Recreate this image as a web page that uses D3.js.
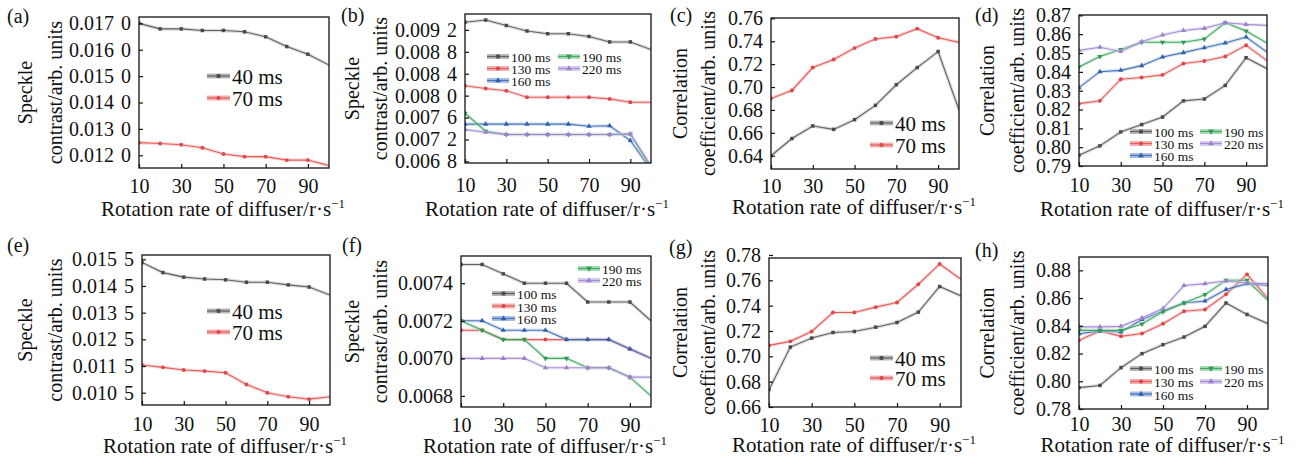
<!DOCTYPE html>
<html><head><meta charset="utf-8">
<script src="https://cdn.jsdelivr.net/npm/d3@7"></script>
<style>
body{margin:0;background:#fff}
svg{display:block}
text{font-family:"Liberation Serif","Times New Roman",serif;fill:#111}
</style>
</head><body><svg id="c" width="1299" height="460"></svg>
<script>
// ---------------- data ----------------
const rates = [10,20,30,40,50,60,70,80,90,100];
const xTicks = [10,30,50,70,90];
const names2 = ["40 ms","70 ms"];
const names5 = ["100 ms","130 ms","160 ms","190 ms","220 ms"];

// (a)
const a40 = [0.01700,0.01679,0.01679,0.01673,0.01673,0.01668,0.01649,0.01612,0.01583,0.01542];
const a70 = [0.01248,0.01245,0.01240,0.01229,0.01205,0.01195,0.01195,0.01182,0.01182,0.01161];
const aYTicks = [0.0120,0.0130,0.0140,0.0150,0.0160,0.0170];
const aYLabels = ["0.012 0","0.013 0","0.014 0","0.015 0","0.016 0","0.017 0"];
// (b)
const b100 = [0.00934,0.00938,0.00928,0.00918,0.00913,0.00913,0.00908,0.00898,0.00898,0.00884];
const b130 = [0.00818,0.00813,0.00809,0.00797,0.00797,0.00797,0.00797,0.00794,0.00788,0.00788];
const b160 = [0.00748,0.00748,0.00748,0.00748,0.00748,0.00748,0.00744,0.00745,0.00718,0.00665];
const b190 = [0.00768,0.00735,0.00729,0.00729,0.00729,0.00729,0.00729,0.00729,0.00730,0.00668];
const b220 = [0.00738,0.00733,0.00729,0.00729,0.00729,0.00729,0.00729,0.00729,0.00730,0.00672];
const bYTicks = [0.0068,0.0072,0.0076,0.0080,0.0084,0.0088,0.0092];
const bYLabels = ["0.006 8","0.007 2","0.007 6","0.008 0","0.008 4","0.008 8","0.009 2"];
// (c)
const c40 = [0.640,0.655,0.666,0.663,0.6715,0.684,0.702,0.717,0.731,0.680];
const c70 = [0.690,0.697,0.717,0.724,0.734,0.742,0.744,0.751,0.743,0.739];
const cYTicks = [0.64,0.66,0.68,0.70,0.72,0.74,0.76];
const cYLabels = ["0.64","0.66","0.68","0.70","0.72","0.74","0.76"];
// (d)
const d100 = [0.7957,0.8007,0.8081,0.8120,0.8160,0.8246,0.8256,0.8328,0.8475,0.8417];
const d130 = [0.8231,0.8246,0.8361,0.8370,0.8384,0.8444,0.8458,0.8482,0.8541,0.8460];
const d160 = [0.8316,0.8401,0.8408,0.8433,0.8479,0.8502,0.8528,0.8553,0.8585,0.8505];
const d190 = [0.8426,0.8482,0.8519,0.8557,0.8557,0.8557,0.8574,0.8661,0.8617,0.8553];
const d220 = [0.8514,0.8531,0.8508,0.8560,0.8596,0.8620,0.8631,0.8661,0.8652,0.8647];
const dYTicks = [0.79,0.80,0.81,0.82,0.83,0.84,0.85,0.86,0.87];
const dYLabels = ["0.79","0.80","0.81","0.82","0.83","0.84","0.85","0.86","0.87"];
// (e)
const e40 = [0.01538,0.01500,0.01483,0.01476,0.01473,0.01464,0.01464,0.01454,0.01446,0.01416];
const e70 = [0.01154,0.01145,0.01135,0.01131,0.01125,0.01081,0.01050,0.01035,0.01026,0.01035];
const eYTicks = [0.0105,0.0115,0.0125,0.0135,0.0145,0.0155];
const eYLabels = ["0.010 5","0.011 5","0.012 5","0.013 5","0.014 5","0.015 5"];
// (f)
const f100 = [0.00750,0.00750,0.00745,0.00740,0.00740,0.00740,0.00730,0.00730,0.00730,0.00720];
const f130 = [0.00715,0.00715,0.00710,0.00710,0.00710,0.00710,0.00710,0.00710,0.00705,0.00700];
const f160 = [0.00720,0.00720,0.00715,0.00715,0.00715,0.00710,0.00710,0.00710,0.00705,0.00700];
const f190 = [0.00720,0.00715,0.00710,0.00710,0.00700,0.00700,0.00695,0.00695,0.00690,0.00680];
const f220 = [0.00700,0.00700,0.00700,0.00700,0.00695,0.00695,0.00695,0.00695,0.00690,0.00690];
const fYTicks = [0.0068,0.0070,0.0072,0.0074];
const fYLabels = ["0.0068","0.0070","0.0072","0.0074"];
// (g)
const g40 = [0.6737,0.7073,0.7144,0.7188,0.7196,0.7230,0.7267,0.7349,0.7551,0.7477];
const g70 = [0.7086,0.7118,0.7196,0.7346,0.7346,0.7388,0.7425,0.7569,0.7729,0.7608];
const gYTicks = [0.66,0.68,0.70,0.72,0.74,0.76,0.78];
const gYLabels = ["0.66","0.68","0.70","0.72","0.74","0.76","0.78"];
// (h)
const h100 = [0.7954,0.7970,0.8098,0.8199,0.8264,0.8319,0.8396,0.8564,0.8482,0.8415];
const h130 = [0.8295,0.8363,0.8324,0.8344,0.8415,0.8505,0.8517,0.8627,0.8771,0.8596];
const h160 = [0.8343,0.8363,0.8355,0.8445,0.8507,0.8564,0.8579,0.8661,0.8704,0.8690];
const h190 = [0.8367,0.8367,0.8367,0.8413,0.8502,0.8564,0.8625,0.8728,0.8728,0.8583];
const h220 = [0.8392,0.8392,0.8396,0.8457,0.8524,0.8690,0.8704,0.8723,0.8709,0.8704];
const hYTicks = [0.78,0.80,0.82,0.84,0.86,0.88];
const hYLabels = ["0.78","0.80","0.82","0.84","0.86","0.88"];

const xTitle = "Rotation rate of diffuser/r\u00B7s";
const spTitle = ["Speckle","contrast/arb. units"];
const coTitle = ["Correlation","coefficient/arb. units"];

// ---------------- styles ----------------
const colors = ["#4a4a4a","#e04848","#2f62aa","#2e9a52","#9b80cc"];
const halo = ["#b8b8b8","#f2b0b0","#a9c0e4","#a8dcb8","#d8ccee"];
const symbols = [d3.symbolSquare,d3.symbolCircle,d3.symbolTriangle,"down",d3.symbolTriangle];
const TICK_FS = 20, TITLE_FS = 21, LEG5_FS = 13.5;

const svg = d3.select("#c");
let clipId = 0;

function drawMarker(g, i, cx, cy, size){
  let s = symbols[i], rot = 0;
  if(s === "down"){ s = d3.symbolTriangle; rot = 180; }
  g.append("path")
    .attr("d", d3.symbol().type(s).size(size)())
    .attr("transform", `translate(${cx},${cy}) rotate(${rot})`)
    .attr("fill", colors[i]);
}

function panel(p){
  const g = svg.append("g");
  const x = d3.scaleLinear().domain([10,100]).range([p.x0,p.x1]);
  const y = d3.scaleLinear().domain(p.yDomain).range([p.y1,p.y0]);
  const id = "clip"+(clipId++);
  g.append("clipPath").attr("id",id).append("rect")
    .attr("x",p.x0).attr("y",p.y0).attr("width",p.x1-p.x0).attr("height",p.y1-p.y0);
  const plot = g.append("g").attr("clip-path",`url(#${id})`);
  const line = d3.line().x((d,k)=>x(rates[k])).y(d=>y(d));
  p.series.forEach((s,i)=>{
    plot.append("path").attr("d",line(s)).attr("fill","none")
      .attr("stroke",halo[i]).attr("stroke-width",3.5).attr("stroke-opacity",0.45);
    plot.append("path").attr("d",line(s)).attr("fill","none")
      .attr("stroke",colors[i]).attr("stroke-width",1.1).attr("stroke-opacity",0.85);
    s.forEach((v,k)=>{ if(k<9) drawMarker(plot,i,x(rates[k]),y(v),12); });
  });
  // box
  g.append("rect").attr("x",p.x0).attr("y",p.y0)
    .attr("width",p.x1-p.x0).attr("height",p.y1-p.y0)
    .attr("fill","none").attr("stroke","#111").attr("stroke-width",1.3);
  // axes
  const pad = p.xTickY - p.y1 - 0.37*TICK_FS;
  const xa = g.append("g").attr("transform",`translate(0,${p.y1})`)
    .call(d3.axisBottom(x).tickValues(xTicks).tickSizeInner(-4).tickSizeOuter(0).tickPadding(pad));
  const ya = g.append("g").attr("transform",`translate(${p.x0},0)`)
    .call(d3.axisLeft(y).tickValues(p.yTicks).tickFormat((d,i)=>p.yLabels[i])
      .tickSizeInner(-4).tickSizeOuter(0).tickPadding(8));
  [xa,ya].forEach(a=>{
    a.select(".domain").remove();
    a.selectAll("line").attr("stroke","#111").attr("stroke-width",1.2);
    a.selectAll("text").style("font-size",TICK_FS+"px")
      .style("font-family",'"Liberation Serif",serif').attr("fill","#111");
  });
  ya.selectAll("text").style("word-spacing","2px");
  // x title
  const xt = g.append("text").attr("x",(p.x0+p.x1)/2-11).attr("y",p.xTitleY)
    .attr("text-anchor","middle").attr("dominant-baseline","central")
    .style("font-size",TITLE_FS+"px").text(xTitle);
  xt.append("tspan").attr("dy","-0.45em").style("font-size","13px").text("\u22121");
  // y title (two lines)
  const cy = (p.y0+p.y1)/2;
  p.yTitle.forEach((t,k)=>{
    g.append("text").attr("transform",`translate(${p.yTitleX[k]},${cy}) rotate(-90)`)
      .attr("text-anchor","middle").attr("dominant-baseline","central")
      .style("font-size","20px").text(t);
  });
  // panel label
  g.append("text").attr("x",p.lab[0]).attr("y",p.lab[1])
    .attr("dominant-baseline","central").style("font-size","20px").text(p.label);
  // legend
  p.legend.forEach(L=>{
    const i = L.i;
    g.append("line").attr("x1",L.sx).attr("x2",L.sx+L.sw).attr("y1",L.y).attr("y2",L.y)
      .attr("stroke",halo[i]).attr("stroke-width",5);
    g.append("line").attr("x1",L.sx).attr("x2",L.sx+L.sw).attr("y1",L.y).attr("y2",L.y)
      .attr("stroke",colors[i]).attr("stroke-width",1.2).attr("stroke-opacity",0.8);
    drawMarker(g,i,L.sx+L.sw/2,L.y,14);
    g.append("text").attr("x",L.sx+L.sw+2).attr("y",L.y+1)
      .attr("dominant-baseline","central").style("font-size",L.fs+"px").text(L.name);
  });
}

function leg2(sx,y1,y2){
  return [{i:0,name:names2[0],sx:sx,sw:23,y:y1,fs:21},{i:1,name:names2[1],sx:sx,sw:23,y:y2,fs:21}];
}
function leg5(c1x,c2x,ys,ys2){
  return [
    {i:0,name:names5[0],sx:c1x,sw:22,y:ys[0],fs:LEG5_FS},
    {i:1,name:names5[1],sx:c1x,sw:22,y:ys[1],fs:LEG5_FS},
    {i:2,name:names5[2],sx:c1x,sw:22,y:ys[2],fs:LEG5_FS},
    {i:3,name:names5[3],sx:c2x,sw:22,y:ys2[0],fs:LEG5_FS},
    {i:4,name:names5[4],sx:c2x,sw:22,y:ys2[1],fs:LEG5_FS}
  ];
}

panel({label:"(a)",lab:[7,16],x0:139,x1:329,y0:17,y1:168,yDomain:[0.01152,0.01724],
  yTicks:aYTicks,yLabels:aYLabels,series:[a40,a70],xTickY:186,xTitleY:209,yTitle:spTitle,yTitleX:[25,55],
  legend:leg2(207,76,98)});
panel({label:"(b)",lab:[341,15],x0:465,x1:651,y0:14,y1:163,yDomain:[0.00677,0.00949],
  yTicks:bYTicks,yLabels:bYLabels,series:[b100,b130,b160,b190,b220],xTickY:185,xTitleY:209,yTitle:spTitle,yTitleX:[352,380],
  legend:leg5(487,558,[56.5,68.5,80.5],[56.5,68.5])});
panel({label:"(c)",lab:[670,15],x0:771,x1:959,y0:18,y1:169,yDomain:[0.6284,0.7603],
  yTicks:cYTicks,yLabels:cYLabels,series:[c40,c70],xTickY:186,xTitleY:207,yTitle:coTitle,yTitleX:[680,708],
  legend:leg2(870,123,145)});
panel({label:"(d)",lab:[975,15],x0:1079,x1:1267,y0:15,y1:166,yDomain:[0.79,0.8702],
  yTicks:dYTicks,yLabels:dYLabels,series:[d100,d130,d160,d190,d220],xTickY:185,xTitleY:209,yTitle:coTitle,yTitleX:[987,1017],
  legend:leg5(1130,1200,[131.5,143.5,155.5],[131.5,143.5])});
panel({label:"(e)",lab:[7,245],x0:142,x1:330,y0:255,y1:405,yDomain:[0.01004,0.01566],
  yTicks:eYTicks,yLabels:eYLabels,series:[e40,e70],xTickY:424,xTitleY:446,yTitle:spTitle,yTitleX:[25,55],
  legend:leg2(207,311,332)});
panel({label:"(f)",lab:[342,245],x0:461,x1:651,y0:256,y1:407,yDomain:[0.006741,0.007545],
  yTicks:fYTicks,yLabels:fYLabels,series:[f100,f130,f160,f190,f220],xTickY:425,xTitleY:446,yTitle:spTitle,yTitleX:[352,380],
  legend:[
    {i:3,name:names5[3],sx:578,sw:22,y:268.5,fs:LEG5_FS},
    {i:4,name:names5[4],sx:578,sw:22,y:280.5,fs:LEG5_FS},
    {i:0,name:names5[0],sx:492,sw:23,y:293.5,fs:LEG5_FS},
    {i:1,name:names5[1],sx:492,sw:23,y:306,fs:LEG5_FS},
    {i:2,name:names5[2],sx:492,sw:23,y:318.5,fs:LEG5_FS}
  ]});
panel({label:"(g)",lab:[669,247],x0:769,x1:961,y0:258,y1:407,yDomain:[0.66,0.7776],
  yTicks:gYTicks,yLabels:gYLabels,series:[g40,g70],xTickY:425,xTitleY:445,yTitle:coTitle,yTitleX:[680,708],
  legend:leg2(870,358,378)});
panel({label:"(h)",lab:[975,250],x0:1079,x1:1268,y0:257,y1:409,yDomain:[0.78,0.8896],
  yTicks:hYTicks,yLabels:hYLabels,series:[h100,h130,h160,h190,h220],xTickY:424,xTitleY:445,yTitle:coTitle,yTitleX:[987,1017],
  legend:leg5(1130,1200,[368.5,381.5,394],[368.5,381.5])});
</script>
</body></html>
